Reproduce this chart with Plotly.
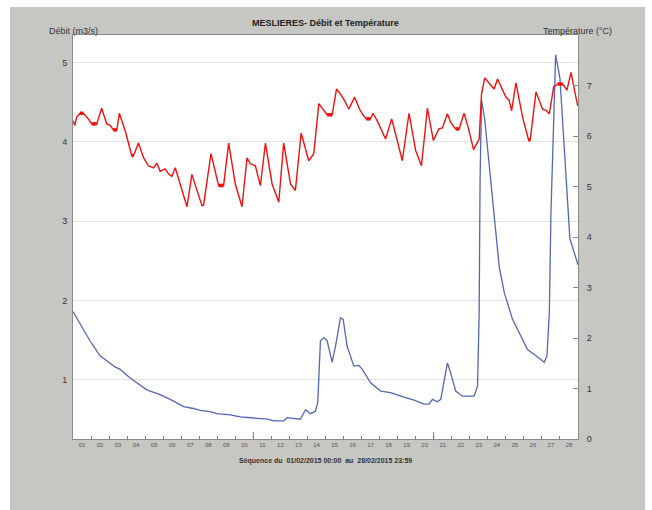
import plotly.graph_objects as go

# ---- data (x = days since 01/02/2015 00:00) ----
flow_day = [0.0, 0.57, 0.94, 1.5, 1.78, 2.33, 2.61, 3.17, 3.54, 4.09, 4.28, 4.83, 5.39, 6.13, 6.68,
            7.06, 7.61, 7.98, 8.72, 9.28, 10.02, 10.76, 11.13, 11.69, 11.87, 12.24, 12.61, 12.89,
            13.17, 13.44, 13.57, 13.72, 13.91, 14.09, 14.37, 14.56, 14.83, 14.98, 15.2, 15.57,
            15.85, 16.04, 16.5, 17.06, 17.61, 18.35, 18.91, 19.46, 19.74, 19.93, 20.2, 20.39,
            20.76, 20.94, 21.22, 21.59, 22.24, 22.43, 22.52, 22.57, 22.65, 22.83, 22.98, 23.17,
            23.35, 23.63, 23.91, 24.37, 24.83, 25.2, 25.67, 26.13, 26.28, 26.41, 26.5, 26.65,
            26.76, 27.0, 27.28, 27.44, 27.55, 28.0]
flow_val = [1.86, 1.63, 1.49, 1.30, 1.255, 1.16, 1.13, 1.02, 0.96, 0.87, 0.855, 0.81, 0.75, 0.66, 0.635,
            0.61, 0.595, 0.57, 0.555, 0.53, 0.515, 0.50, 0.48, 0.48, 0.52, 0.51, 0.50, 0.62,
            0.57, 0.60, 0.71, 1.49, 1.53, 1.49, 1.22, 1.43, 1.78, 1.76, 1.42, 1.17,
            1.18, 1.13, 0.96, 0.855, 0.835, 0.78, 0.74, 0.69, 0.69, 0.75, 0.72, 0.75,
            1.21, 1.085, 0.855, 0.79, 0.79, 0.92, 1.84, 3.52, 4.53, 4.28, 3.94, 3.52,
            3.02, 2.43, 2.10, 1.76, 1.55, 1.38, 1.30, 1.22, 1.30, 1.84, 3.10, 4.45,
            5.10, 4.80, 3.78, 3.15, 2.78, 2.45]

temp_day = [0.0, 0.1, 0.2, 0.39, 0.57, 0.85, 1.04, 1.32, 1.59, 1.87, 2.06, 2.24, 2.43, 2.57, 2.89,
            3.26, 3.35, 3.63, 3.91, 4.18, 4.46, 4.65, 4.83, 5.11, 5.29, 5.48, 5.67, 6.04, 6.32,
            6.59, 6.87, 7.15, 7.24, 7.65, 8.07, 8.35, 8.63, 9.0, 9.37, 9.65, 9.83, 10.11, 10.39,
            10.67, 11.04, 11.41, 11.68, 12.06, 12.33, 12.65, 13.07, 13.35, 13.63, 13.91, 14.09,
            14.37, 14.61, 14.83, 15.06, 15.29, 15.61, 15.89, 16.07, 16.26, 16.5, 16.63, 16.87,
            17.33, 17.67, 18.26, 18.63, 19.0, 19.32, 19.65, 19.98, 20.29, 20.48, 20.76, 20.94,
            21.22, 21.41, 21.68, 21.91, 22.21, 22.43, 22.52, 22.65, 22.83, 23.07, 23.35, 23.54,
            23.82, 24.0, 24.18, 24.32, 24.56, 24.93, 25.26, 25.35, 25.67, 25.85, 26.04, 26.22,
            26.41, 26.65, 26.87, 27.15, 27.39, 27.61, 27.98]
temp_val = [6.30, 6.21, 6.37, 6.45, 6.45, 6.34, 6.24, 6.24, 6.55, 6.24, 6.21, 6.12, 6.12, 6.45, 6.11,
            5.61, 5.61, 5.86, 5.57, 5.41, 5.37, 5.46, 5.30, 5.35, 5.25, 5.20, 5.37, 4.92, 4.60,
            5.24, 4.92, 4.62, 4.63, 5.65, 5.02, 5.02, 5.86, 5.05, 4.60, 5.57, 5.45, 5.41, 5.02,
            5.86, 5.05, 4.69, 5.86, 5.05, 4.92, 6.06, 5.51, 5.65, 6.64, 6.51, 6.42,
            6.42, 6.93, 6.83, 6.70, 6.53, 6.77, 6.53, 6.42, 6.34, 6.34, 6.45, 6.30,
            5.94, 6.34, 5.51, 6.45, 5.71, 5.41, 6.55, 5.91, 6.14, 6.16, 6.44, 6.27,
            6.14, 6.14, 6.45, 6.17, 5.73, 5.88, 5.94, 6.83, 7.15, 7.05, 6.93, 7.13,
            6.90, 6.77, 6.71, 6.50, 7.05, 6.37, 5.92, 5.92, 6.87, 6.70, 6.53, 6.51,
            6.44, 6.97, 7.03, 7.03, 6.91, 7.26, 6.60]

day_labels = ["%02d" % d for d in range(1, 29)]
left_ticks = [1, 2, 3, 4, 5]
right_ticks = [0, 1, 2, 3, 4, 5, 6, 7]

title_text = "MESLIERES- Débit et Température"
left_title = "Débit (m3/s)"
right_title = "Température (°C)"
x_title = "Séquence du  01/02/2015 00:00  au  28/02/2015 23:59"

# ---- layout geometry (pixels) ----
W, H = 652, 510
ML, MR, MT, MB = 73, 74, 35, 71
PW, PH = W - ML - MR, H - MT - MB


def px(x):
    return (x - ML) / PW


def py(y):
    return (H - MB - y) / PH


FONT = "Arial, Liberation Sans, sans-serif"
RED = "#f01010"

# thick plateau segments for the stepped (0.1 °C quantised) temperature record
plateau_x, plateau_y = [], []
for i in range(len(temp_val) - 1):
    if abs(temp_val[i] - temp_val[i + 1]) < 1e-9:
        plateau_x += [temp_day[i], temp_day[i + 1], None]
        plateau_y += [temp_val[i], temp_val[i + 1], None]

fig = go.Figure()
fig.add_trace(go.Scatter(x=flow_day, y=flow_val, mode="lines",
                         line=dict(color="#5466b4", width=1.3), yaxis="y", showlegend=False))
fig.add_trace(go.Scatter(x=temp_day, y=temp_val, mode="lines",
                         line=dict(color=RED, width=1.4),
                         yaxis="y2", showlegend=False))
fig.add_trace(go.Scatter(x=plateau_x, y=plateau_y, mode="lines",
                         line=dict(color=RED, width=3.5), connectgaps=False,
                         yaxis="y2", showlegend=False))

fig.update_layout(
    width=W, height=H,
    margin=dict(l=ML, r=MR, t=MT, b=MB, pad=0),
    paper_bgcolor="white", plot_bgcolor="white",
    font=dict(family=FONT, size=9, color="#333"),
    xaxis=dict(range=[0, 28], tickmode="array",
               tickvals=[i + 0.5 for i in range(28)], ticktext=day_labels,
               ticks="", tickfont=dict(size=6, color="#555"),
               showgrid=False, zeroline=False,
               showline=True, linecolor="#8a8a8a", linewidth=1, mirror=True,
               minor=dict(tickmode="array", tickvals=list(range(1, 28)),
                          ticks="inside", ticklen=3, tickcolor="#777", tickwidth=1,
                          showgrid=False)),
    yaxis=dict(range=[0.25, 5.35], tickmode="array", tickvals=left_ticks,
               ticks="", tickfont=dict(size=9, color="#333"),
               showgrid=True, gridcolor="#e2e2e2", gridwidth=1, zeroline=False,
               showline=True, linecolor="#8a8a8a", linewidth=1, mirror=True,
               ticklabelstandoff=3),
    yaxis2=dict(range=[0, 8], overlaying="y", side="right", tickmode="array",
                tickvals=right_ticks, ticks="inside", ticklen=5, tickcolor="#888",
                tickfont=dict(size=9, color="#333"), showgrid=False, zeroline=False,
                showline=True, linecolor="#8a8a8a", linewidth=1,
                ticklabelstandoff=6),
)

shapes = [
    dict(type="rect", xref="paper", yref="paper", layer="below",
         x0=px(10), x1=px(645), y0=py(510), y1=py(7),
         fillcolor="#c6c6c2", line=dict(width=0)),
    dict(type="rect", xref="paper", yref="paper", layer="below",
         x0=0, x1=1, y0=0, y1=1,
         fillcolor="white", line=dict(width=0)),
]
for d in (10, 20):
    shapes.append(dict(type="line", xref="x", yref="paper", x0=d, x1=d, y0=0, y1=7 / PH,
                       line=dict(color="#777", width=1)))
fig.update_layout(shapes=shapes)

fig.add_annotation(text="<b>%s</b>" % title_text, xref="paper", yref="paper",
                   x=px(325), y=py(23), showarrow=False, font=dict(size=9, color="#222"),
                   xanchor="center", yanchor="middle")
fig.add_annotation(text=left_title, xref="paper", yref="paper",
                   x=px(73), y=py(31), showarrow=False, font=dict(size=9, color="#333"),
                   xanchor="center", yanchor="middle")
fig.add_annotation(text=right_title, xref="paper", yref="paper",
                   x=px(577), y=py(31), showarrow=False, font=dict(size=9, color="#333"),
                   xanchor="center", yanchor="middle")
fig.add_annotation(text="<b>%s</b>" % x_title, xref="paper", yref="paper",
                   x=px(325), y=py(461), showarrow=False, font=dict(size=7, color="#333"),
                   xanchor="center", yanchor="middle")

fig.write_html("out.html")
